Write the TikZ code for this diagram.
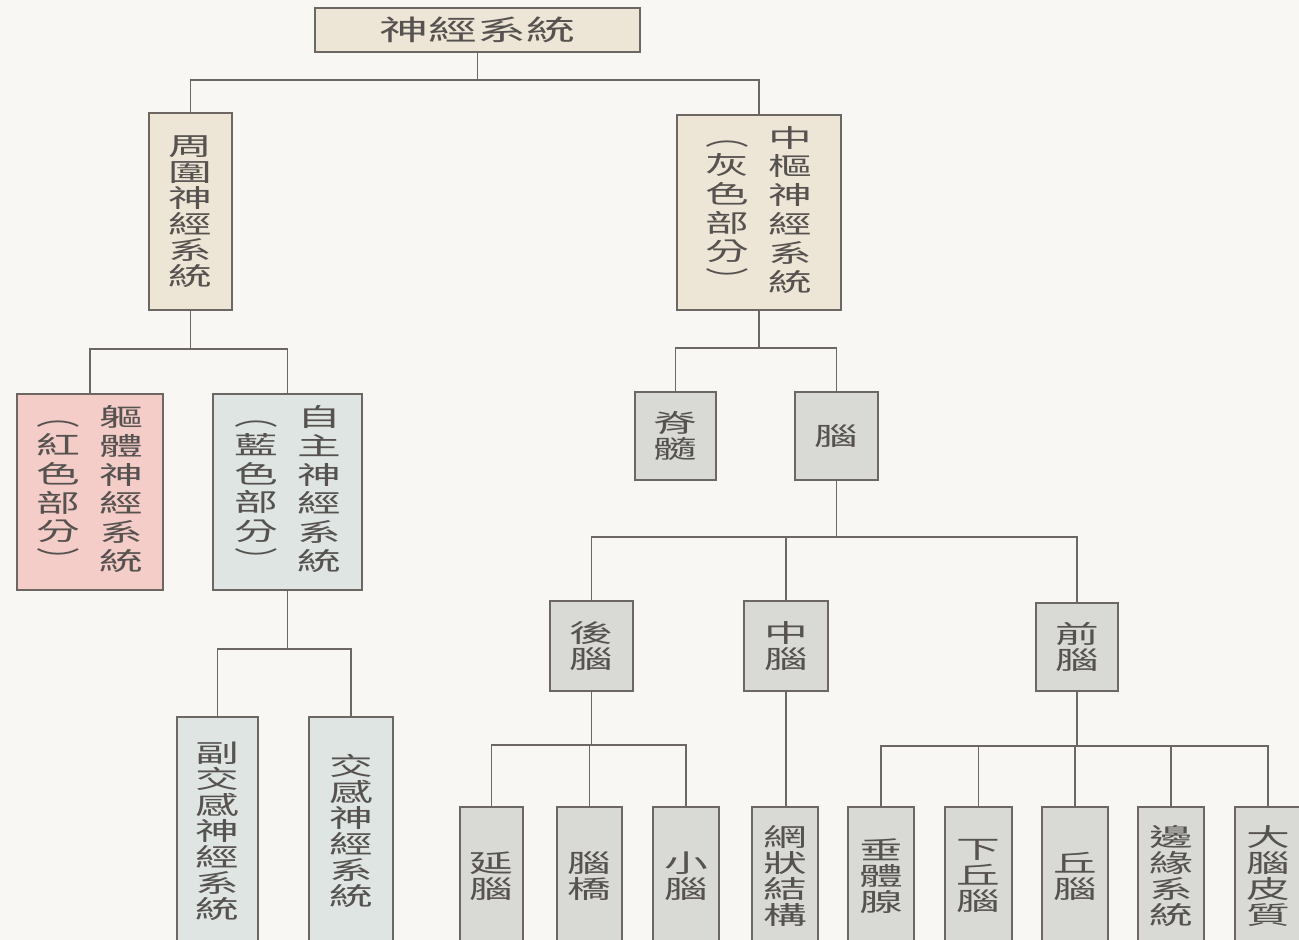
\documentclass[tikz,border=0pt]{standalone}
\usepackage{fontspec}
\newfontfamily\cjk[FakeStretch=1.75]{Noto Sans CJK TC}
\usetikzlibrary{positioning, calc}

\definecolor{pagebg}{RGB}{248,247,244}
\definecolor{linegrey}{RGB}{108,103,99}
\definecolor{inkgrey}{RGB}{86,82,80}
\definecolor{beige}{RGB}{237,230,215}
\definecolor{rosepink}{RGB}{244,204,200}
\definecolor{paleblue}{RGB}{222,229,226}
\definecolor{lightgrey}{RGB}{217,218,214}

\newcommand{\vcol}[1]{\begin{tabular}[c]{@{}c@{}}#1\end{tabular}}
\newcommand{\twocol}[2]{\begin{tabular}{@{}c@{\hspace{19pt}}c@{}}\vcol{#1} & \vcol{#2}\end{tabular}}

\begin{document}
\begin{tikzpicture}[x=1pt, y=-1pt,
    cell/.style={draw=linegrey, line width=2.2pt, inner sep=0pt, align=center,
        text=inkgrey, font=\cjk\fontsize{25}{26}\selectfont},
    beigecell/.style={cell, fill=beige},
    pinkcell/.style={cell, fill=rosepink},
    bluecell/.style={cell, fill=paleblue},
    greycell/.style={cell, fill=lightgrey},
    link/.style={draw=linegrey, line width=1.8pt}]

    % Page
    \useasboundingbox (0,0) rectangle (1299,940);
    \clip (0,0) rectangle (1299,940);
    \fill[pagebg] (0,0) rectangle (1299,940);

    % Bus levels
    \coordinate (bus0) at (0,80);
    \coordinate (bus1) at (0,349);
    \coordinate (bus2) at (0,649);
    \coordinate (bus3) at (0,348);
    \coordinate (bus4) at (0,537);
    \coordinate (bus5) at (0,745);
    \coordinate (bus6) at (0,746);

    % Top
    \node[beigecell, minimum width=325, minimum height=44,
        font=\cjk\fontsize{28}{30}\selectfont] (sys) at (477.5,30) {神經系統};

    % Second level
    \node[beigecell, minimum width=83, minimum height=197] (pns) at (190.5,211.5)
        {周\\圍\\神\\經\\系\\統};
    \node[beigecell, minimum width=164, minimum height=195] (cns) at (759,212.5)
        {\twocol{︵\\灰\\色\\部\\分\\︶}{中\\樞\\神\\經\\系\\統}};

    % Peripheral branch
    \node[pinkcell, minimum width=146, minimum height=196] (soma) at (90,492)
        {\twocol{︵\\紅\\色\\部\\分\\︶}{軀\\體\\神\\經\\系\\統}};
    \node[bluecell, minimum width=149, minimum height=196] (auto) at (287.5,492)
        {\twocol{︵\\藍\\色\\部\\分\\︶}{自\\主\\神\\經\\系\\統}};
    \node[bluecell, minimum width=81, minimum height=228] (para) at (217.5,831)
        {副\\交\\感\\神\\經\\系\\統};
    \node[bluecell, minimum width=84, minimum height=228] (symp) at (351,831)
        {交\\感\\神\\經\\系\\統};

    % Central branch
    \node[greycell, minimum width=81, minimum height=88] (spine) at (675.5,436) {脊\\髓};
    \node[greycell, minimum width=83, minimum height=88] (brain) at (836.5,436) {腦};

    \node[greycell, minimum width=83, minimum height=90] (hind) at (591.5,646) {後\\腦};
    \node[greycell, minimum width=84, minimum height=90] (mid) at (786,646) {中\\腦};
    \node[greycell, minimum width=82, minimum height=88] (fore) at (1077,647) {前\\腦};

    % Bottom row
    \node[greycell, minimum width=63, minimum height=138] (medulla) at (491.5,876) {延\\腦};
    \node[greycell, minimum width=65, minimum height=138] (pons) at (589.5,876) {腦\\橋};
    \node[greycell, minimum width=66, minimum height=138] (cereb) at (686,876) {小\\腦};
    \node[greycell, minimum width=66, minimum height=138] (retic) at (785,876) {網\\狀\\結\\構};
    \node[greycell, minimum width=66, minimum height=138] (pit) at (881,876) {垂\\體\\腺};
    \node[greycell, minimum width=67, minimum height=138] (hypo) at (978.5,876) {下\\丘\\腦};
    \node[greycell, minimum width=66, minimum height=138] (thal) at (1075,876) {丘\\腦};
    \node[greycell, minimum width=66, minimum height=138] (limb) at (1171,876) {邊\\緣\\系\\統};
    \node[greycell, minimum width=66, minimum height=138] (cortex) at (1268,876) {大\\腦\\皮\\質};

    % Connectors
    \draw[link] (sys.south) -- (sys.south |- bus0);
    \draw[link] (pns.north) |- (bus0 -| cns.north) -- (cns.north);

    \draw[link] (pns.south) -- (pns.south |- bus1);
    \draw[link] (soma.north) |- (bus1 -| auto.north) -- (auto.north);

    \draw[link] (auto.south) -- (auto.south |- bus2);
    \draw[link] (para.north) |- (bus2 -| symp.north) -- (symp.north);

    \draw[link] (cns.south) -- (cns.south |- bus3);
    \draw[link] (spine.north) |- (bus3 -| brain.north) -- (brain.north);

    \draw[link] (brain.south) -- (brain.south |- bus4);
    \draw[link] (hind.north) |- (bus4 -| fore.north) -- (fore.north);
    \draw[link] (mid.north) -- (mid.north |- bus4);

    \draw[link] (hind.south) -- (hind.south |- bus5);
    \draw[link] (medulla.north) |- (bus5 -| cereb.north) -- (cereb.north);
    \draw[link] (pons.north) -- (pons.north |- bus5);

    \draw[link] (mid.south) -- (mid.south |- retic.north);

    \draw[link] (fore.south) -- (fore.south |- bus6);
    \draw[link] (pit.north) |- (bus6 -| cortex.north) -- (cortex.north);
    \foreach \c in {hypo, thal, limb}
        \draw[link] (\c.north) -- (\c.north |- bus6);
\end{tikzpicture}
\end{document}
